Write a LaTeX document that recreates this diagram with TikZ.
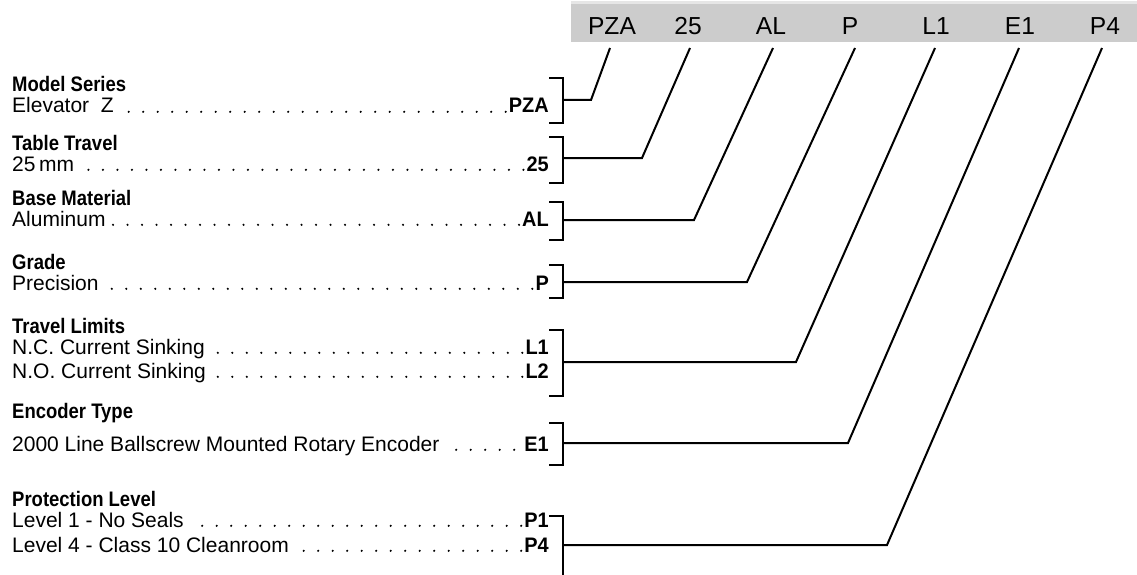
\documentclass[tikz,border=0pt]{standalone}
\usepackage{fontspec}
\setmainfont{Liberation Sans}
\newfontfamily\hdgfont{Liberation Sans}[FakeStretch=0.88]
\newfontfamily\codefont{Liberation Sans}[FakeStretch=0.95]
\usetikzlibrary{calc}
\definecolor{barfill}{HTML}{CCCCCC}
\definecolor{barline}{HTML}{E6E6E6}
\begin{document}
\begin{tikzpicture}[x=1pt,y=-1pt,
  hdr/.style={font=\fontsize{24.6}{28}\selectfont, inner sep=0pt, anchor=base},
  ttl/.style={font=\hdgfont\bfseries\fontsize{21}{25}\selectfont, inner sep=0pt, anchor=base west, text height=15pt, text depth=0pt},
  itm/.style={font=\fontsize{21}{25}\selectfont, inner sep=0pt, anchor=base west, text height=15pt, text depth=0pt},
  code/.style={font=\codefont\bfseries\fontsize{21}{25}\selectfont, inner sep=0pt, anchor=base east, text height=15pt, text depth=0pt},
  leader/.style={line width=2.4pt, dash pattern=on 0pt off 14.5pt, line cap=round},
  wire/.style={line width=2pt, line join=miter},
  brk/.style={line width=2pt, line join=miter}]
\useasboundingbox (0,0) rectangle (1137,575);
% header bar
\fill[barline] (571,1.5) rectangle (1137,4);
\fill[barfill] (571,4) rectangle (1137,42);
\node[hdr] (h1) at (612,34.3) {PZA};
\node[hdr] (h2) at (688,34.3) {25};
\node[hdr] (h3) at (771,34.3) {AL};
\node[hdr] (h4) at (850,34.3) {P};
\node[hdr] (h5) at (936,34.3) {L1};
\node[hdr] (h6) at (1020,34.3) {E1};
\node[hdr] (h7) at (1105,34.3) {P4};
% left column
\node[ttl] (g1) at (12,92) {Model Series};
\node[itm] (l1) at (12,113) {Elevator\hspace{0.55em}Z};
\node[code] (c1) at (549,113) {PZA};
\node[ttl] (g2) at (12,150) {Table Travel};
\node[itm] (l2) at (12,171) {25\,mm};
\node[code] (c2) at (549,171) {25};
\node[ttl] (g3) at (12,205) {Base Material};
\node[itm] (l3) at (12,226) {Aluminum};
\node[code] (c3) at (549,226) {AL};
\node[ttl] (g4) at (12,269) {Grade};
\node[itm] (l4) at (12,290) {Precision};
\node[code] (c4) at (549,290) {P};
\node[ttl] (g5) at (12,333) {Travel Limits};
\node[itm] (l5a) at (12,354) {N.C. Current Sinking};
\node[code] (c5a) at (549,354) {L1};
\node[itm] (l5b) at (12,378) {N.O. Current Sinking};
\node[code] (c5b) at (549,378) {L2};
\node[ttl] (g6) at (12,418) {Encoder Type};
\node[itm] (l6) at (12,451) {2000 Line Ballscrew Mounted Rotary Encoder};
\node[code] (c6) at (549,451) {E1};
\node[ttl] (g7) at (12,506) {Protection Level};
\node[itm] (l7a) at (12,527) {Level 1 - No Seals};
\node[code] (c7a) at (549,527) {P1};
\node[itm] (l7b) at (12,552) {Level 4 - Class 10 Cleanroom};
\node[code] (c7b) at (549,552) {P4};
% leaders
\foreach \c/\l in {c1/l1,c2/l2,c3/l3,c4/l4,c5a/l5a,c5b/l5b,c7a/l7a,c7b/l7b}{
  \draw[leader] ($(\c.base west)+(-3,-1.2)$) -- ($(\l.base east)+(4,-1.2)$);
}
\draw[leader] ($(c6.base west)+(-10,-1.2)$) -- ($(l6.base east)+(5,-1.2)$);
% brackets
\draw[brk] (549,78) -| (563,123) -- (549,123);
\draw[brk] (549,137) -| (563,183) -- (549,183);
\draw[brk] (549,202) -| (563,240) -- (549,240);
\draw[brk] (549,265) -| (563,298) -- (549,298);
\draw[brk] (549,330) -| (563,396) -- (549,396);
\draw[brk] (549,423) -| (563,465) -- (549,465);
\draw[brk] (549,516) -| (563,580);
% connector points
\coordinate (k1) at (563,100);   \coordinate (b1) at (591,100);   \coordinate (t1) at (610,48);
\coordinate (k2) at (563,158);   \coordinate (b2) at (642,158);   \coordinate (t2) at (690,48);
\coordinate (k3) at (563,220);   \coordinate (b3) at (694,220);   \coordinate (t3) at (773,48);
\coordinate (k4) at (563,282);   \coordinate (b4) at (747,282);   \coordinate (t4) at (855,48);
\coordinate (k5) at (563,362);   \coordinate (b5) at (796,362);   \coordinate (t5) at (935,48);
\coordinate (k6) at (563,443);   \coordinate (b6) at (848,443);   \coordinate (t6) at (1019,48);
\coordinate (k7) at (563,545);   \coordinate (b7) at (887,545);   \coordinate (t7) at (1102,48);
\foreach \i in {1,...,7}{
  \draw[wire] (k\i) -- (b\i) -- (t\i);
}
\end{tikzpicture}
\end{document}
